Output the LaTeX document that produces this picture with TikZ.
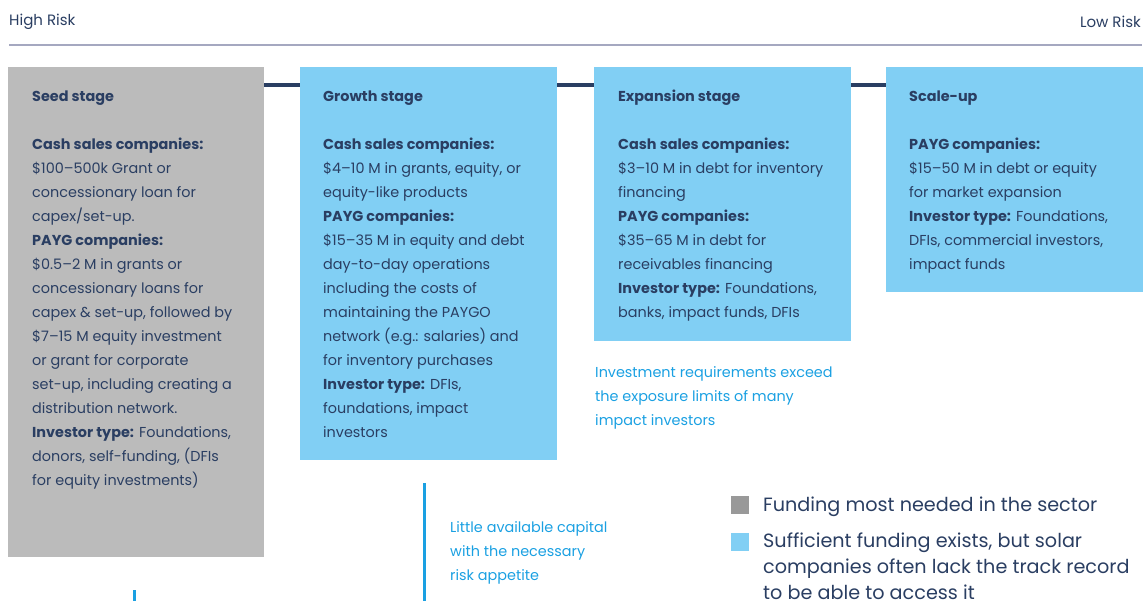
\documentclass[tikz,border=0pt]{standalone}
\usepackage{fontspec}
\setmainfont{Poppins}
\definecolor{navy}{RGB}{42,62,98}
\definecolor{seedgray}{RGB}{187,187,187}
\definecolor{lightblue}{RGB}{129,207,244}
\definecolor{annblue}{RGB}{26,160,226}
\definecolor{rulecol}{RGB}{165,168,192}
\definecolor{leggray}{RGB}{153,153,153}
\tikzset{
  boxtext/.style={anchor=north west, inner sep=0pt, align=left, text=navy,
    font=\fontsize{14.4}{24}\selectfont},
  boxtitle/.style={anchor=base west, inner sep=0pt, text=navy, font=\fontsize{14.4}{24}\selectfont\bfseries},
  anntext/.style={anchor=north west, inner sep=0pt, align=left, text=annblue,
    font=\fontsize{14.4}{24}\selectfont},
  legtext/.style={anchor=north west, inner sep=0pt, align=left, text=navy,
    font=\fontsize{19.2}{26}\selectfont},
  risktext/.style={inner sep=0pt, text=navy, font=\fontsize{15}{18}\selectfont},
  link/.style={draw=navy, line width=4pt},
  annline/.style={draw=annblue, line width=3pt}
}
\begin{document}
\begin{tikzpicture}[x=1pt,y=-1pt]
\useasboundingbox (0,0) rectangle (1148,601);
% risk axis
\node[risktext, anchor=west] (hr) at (9,21.5) {High Risk};
\node[risktext, anchor=east] (lr) at (1141,21.5) {Low Risk};
\coordinate (axl) at (9,45);
\coordinate (axr) at (1142,45);
\draw[rulecol, line width=1.2pt] (axl) -- (axr);
% boxes
\node[fill=seedgray, inner sep=0pt, minimum width=256pt, minimum height=490pt, anchor=north west] (seed) at (8,67) {};
\node[fill=lightblue, inner sep=0pt, minimum width=257pt, minimum height=393pt, anchor=north west] (growth) at (300,67) {};
\node[fill=lightblue, inner sep=0pt, minimum width=257pt, minimum height=274pt, anchor=north west] (exp) at (594,67) {};
\node[fill=lightblue, inner sep=0pt, minimum width=257pt, minimum height=225pt, anchor=north west] (scale) at (886,67) {};
% links
\draw[link] (seed.north east |- 0,85) -- (growth.north west |- 0,85);
\draw[link] (growth.north east |- 0,85) -- (exp.north west |- 0,85);
\draw[link] (exp.north east |- 0,85) -- (scale.north west |- 0,85);
% titles
\node[boxtitle] (t1) at (32,102) {Seed stage};
\node[boxtitle] (t2) at (323,102) {Growth stage};
\node[boxtitle] (t3) at (618,102) {Expansion stage};
\node[boxtitle] (t4) at (909,102) {Scale-up};
% texts
\node[boxtext] (b1) at (32,137.5) {\textbf{Cash sales companies:}\\
\$100--500k Grant or\\
concessionary loan for\\
capex/set-up.\\
\textbf{PAYG companies:}\\
\$0.5--2 M in grants or\\
concessionary loans for\\
capex \& set-up, followed by\\
\$7--15 M equity investment\\
or grant for corporate\\
set-up, including creating a\\
distribution network.\\
\textbf{Investor type:} Foundations,\\
donors, self-funding, (DFIs\\
for equity investments)};
\node[boxtext] (b2) at (323,137.5) {\textbf{Cash sales companies:}\\
\$4--10 M in grants, equity, or\\
equity-like products\\
\textbf{PAYG companies:}\\
\$15--35 M in equity and debt\\
day-to-day operations\\
including the costs of\\
maintaining the PAYGO\\
network (e.g.: salaries) and\\
for inventory purchases\\
\textbf{Investor type:} DFIs,\\
foundations, impact\\
investors};
\node[boxtext] (b3) at (618,137.5) {\textbf{Cash sales companies:}\\
\$3--10 M in debt for inventory\\
financing\\
\textbf{PAYG companies:}\\
\$35--65 M in debt for\\
receivables financing\\
\textbf{Investor type:} Foundations,\\
banks, impact funds, DFIs};
\node[boxtext] (b4) at (909,137.5) {\textbf{PAYG companies:}\\
\$15--50 M in debt or equity\\
for market expansion\\
\textbf{Investor type:} Foundations,\\
DFIs, commercial investors,\\
impact funds};
% annotations
\node[anntext] (a1) at (595,366.5) {Investment requirements exceed\\
the exposure limits of many\\
impact investors};
\node[anntext] (a2) at (450,521.5) {Little available capital\\
with the necessary\\
risk appetite};
\coordinate (v1a) at (424,483);
\coordinate (v1b) at (424,601);
\draw[annline] (v1a) -- (v1b);
\coordinate (v2a) at (134,590);
\coordinate (v2b) at (134,601);
\draw[annline] (v2a) -- (v2b);
% legend
\node[fill=leggray, minimum size=18pt, inner sep=0pt, anchor=north west] (lg1) at (731,496) {};
\node[fill=lightblue, minimum size=18pt, inner sep=0pt, anchor=north west] (lg2) at (731,533) {};
\node[legtext] (lt1) at (763,497) {Funding most needed in the sector};
\node[legtext] (lt2) at (763,533) {Sufficient funding exists, but solar\\
companies often lack the track record\\
to be able to access it};
\end{tikzpicture}
\end{document}
